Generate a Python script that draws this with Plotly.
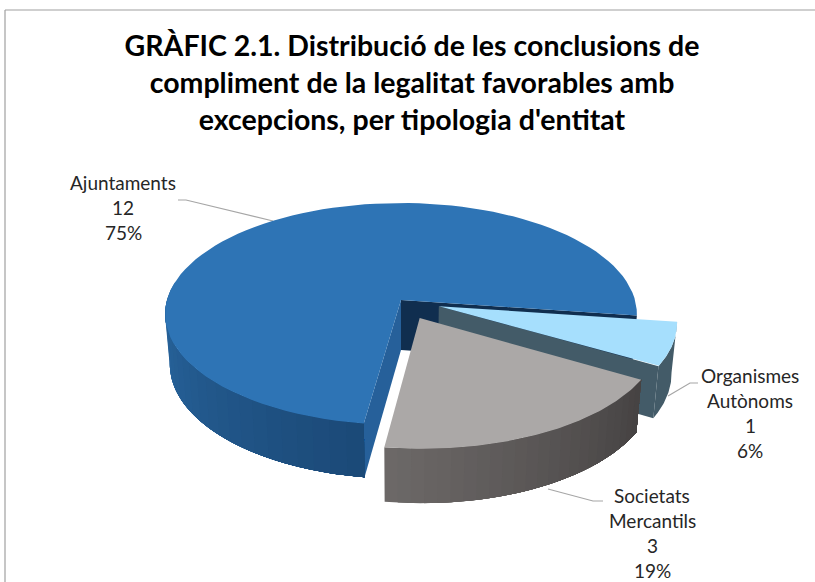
import math
import plotly.graph_objects as go

# ---- data ----
categories = ["Ajuntaments", "Organismes Autònoms", "Societats Mercantils"]
values = [12, 1, 3]
label_lines = [["Ajuntaments"], ["Organismes", "Autònoms"], ["Societats", "Mercantils"]]
title_text = ("GRÀFIC 2.1. Distribució de les conclusions de<br>"
              "compliment de la legalitat favorables amb<br>"
              "excepcions, per tipologia d'entitat")

# ---- style ----
top_colors = ["#2e74b5", "#a6dffd", "#aba8a7"]
wall_left = ["#2a69a3", "#435b68", "#6d6968"]
wall_right = ["#1b4977", "#435b68", "#454242"]
cut_colors = {"navy": "#102e4f", "blue": "#26609a", "teal": "#435b68"}
explode = [0.0, 0.17, 0.18]
START_DEG = -8.0   # boundary between first slice and second, slices run clockwise from the last
CX, Y0, RX, RY, K = 401.0, 300.0, 234.0, 109.2, 0.126
FX, FY, H = 0.98, 1.03, 50.0
LINE_COLOR = "#a6a6a6"
TEXT_COLOR = "#262626"
FONT = "Lato"
label_pos = [(123, 182), (750, 375), (652, 495)]
LINE_STEP = 25
leaders = [[(178, 200), (186, 200), (273, 221)],
           [(698, 383), (690, 383), (668, 396)],
           [(603, 501), (593, 501), (548, 489)]]

total = sum(values)


def project(u, v, low=False):
    s = 1.0 / (1.0 + K * v)
    x = CX + RX * u * s
    y = Y0 - RY * v * s
    if low:
        x = CX + (x - CX) * FX
        y = Y0 + (y - Y0) * FY + H
    return x, y


def point(theta, r, off, low=False):
    a = math.radians(theta)
    return project(r * math.cos(a) + off[0], r * math.sin(a) + off[1], low)


def mix(c1, c2, t):
    a = [int(c1[i:i + 2], 16) for i in (1, 3, 5)]
    b = [int(c2[i:i + 2], 16) for i in (1, 3, 5)]
    return "#%02x%02x%02x" % tuple(round(p + (q - p) * t) for p, q in zip(a, b))


fig = go.Figure()


def poly(pts, color):
    xs = [p[0] for p in pts] + [pts[0][0]]
    ys = [p[1] for p in pts] + [pts[0][1]]
    fig.add_trace(go.Scatter(x=xs, y=ys, mode="lines", fill="toself", fillcolor=color,
                             line=dict(width=0), hoverinfo="skip", showlegend=False))


for pts in leaders:
    fig.add_trace(go.Scatter(x=[p[0] for p in pts], y=[p[1] for p in pts], mode="lines",
                             line=dict(color=LINE_COLOR, width=1.2), hoverinfo="skip", showlegend=False))

# slice angular extents from the values
sweeps = [v / total * 360.0 for v in values]
spans = [(START_DEG, START_DEG + sweeps[0]),
         (START_DEG - sweeps[1], START_DEG),
         (START_DEG - sweeps[1] - sweeps[2], START_DEG - sweeps[1])]


def arc(theta0, theta1, off, n=90, low=False):
    return [point(theta0 + (theta1 - theta0) * i / n, 1.0, off, low) for i in range(n + 1)]


def cut_wall(theta, off, color):
    poly([point(0, 0, off), point(theta, 1, off), point(theta, 1, off, True), point(0, 0, off, True)], color)


def outer_wall(theta0, theta1, off, c_left, c_right, n=24):
    # left-to-right in screen order; each band runs to the end of the wall and is overpainted by the next
    for i in range(n):
        t0 = theta0 + (theta1 - theta0) * i / n
        poly(arc(t0, theta1, off, 40) + arc(theta1, t0, off, 40, True),
             mix(c_left, c_right, (i + 0.5) / n))


def offset(i):
    mid = math.radians(sum(spans[i]) / 2)
    return explode[i] * math.cos(mid), explode[i] * math.sin(mid)


# Slice 1
off = offset(0)
cut_wall(spans[0][0], off, cut_colors["navy"])
cut_wall(spans[0][1], off, cut_colors["blue"])
outer_wall(170, spans[0][1], off, wall_left[0], wall_right[0])
poly([point(0, 0, off)] + arc(spans[0][0], spans[0][1], off), top_colors[0])

# Slice 2
off = offset(1)
cut_wall(spans[1][0], off, cut_colors["teal"])
outer_wall(spans[1][0], spans[1][1], off, wall_left[1], wall_right[1], n=1)
poly([point(0, 0, off)] + arc(spans[1][0], spans[1][1], off), top_colors[1])

# Slice 3 (painted from its left end at the lower angle to the right end)
off = offset(2)
outer_wall(spans[2][0], spans[2][1], off, wall_left[2], wall_right[2])
poly([point(0, 0, off)] + arc(spans[2][0], spans[2][1], off), top_colors[2])

annotations = []
for lines, val, (lx, ly) in zip(label_lines, values, label_pos):
    rows = lines + [str(val), f"{round(val / total * 100)}%"]
    for j, row in enumerate(rows):
        annotations.append(dict(x=lx, y=ly + j * LINE_STEP, text=row, showarrow=False, xanchor="center",
                                yanchor="middle", font=dict(family=FONT, size=19, color=TEXT_COLOR)))

fig.update_layout(
    width=815, height=582, margin=dict(l=0, r=0, t=0, b=0, pad=0),
    paper_bgcolor="white", plot_bgcolor="white", showlegend=False,
    xaxis=dict(range=[0, 815], visible=False, fixedrange=True),
    yaxis=dict(range=[582, 0], visible=False, fixedrange=True),
    title=dict(text=title_text, x=412 / 815, xanchor="center", y=1 - 56 / 582, yanchor="middle",
               font=dict(family=FONT, size=28.5, color="black", weight="bold")),
    annotations=annotations,
    shapes=[dict(type="line", xref="x", yref="y", x0=5, x1=815, y0=10, y1=10,
                 line=dict(color="#a0a0a0", width=1.2)),
            dict(type="line", xref="x", yref="y", x0=5, x1=5, y0=10, y1=582,
                 line=dict(color="#a0a0a0", width=1.2))],
)

fig.write_html("out.html", config=dict(displayModeBar=False),
               post_script="document.body.style.margin='0';document.documentElement.style.overflow='hidden';")
